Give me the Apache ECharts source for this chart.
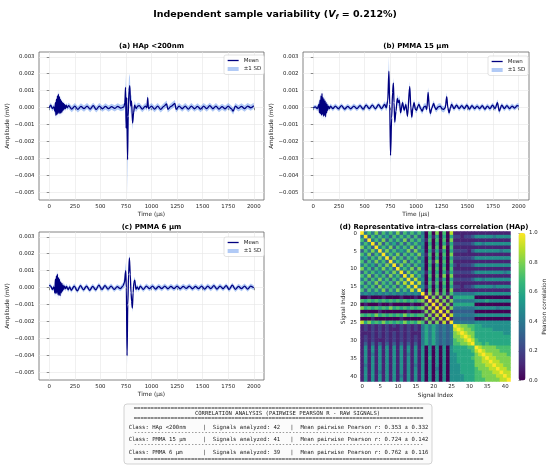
<!DOCTYPE html>
<html lang="en">
<head>
<meta charset="UTF-8">
<title>Independent sample variability</title>
<style>
  html, body { margin: 0; padding: 0; background: #fff; }
  #chart { width: 550px; height: 468px; }
</style>
</head>
<body>
<div id="chart"></div>
<script src="https://cdn.jsdelivr.net/npm/echarts@6/dist/echarts.min.js"></script>
<script>
// signals: [time (µs), mean (µV), sd (µV)]
var sigHAp = [
  [0, 0.00, 0.15], [15, 0.15, 0.15], [30, -0.05, 0.15], [45, 0.05, 0.15],
  [55, -0.20, 0.20], [60, 0.30, 0.20], [65, -0.45, 0.25], [70, 0.50, 0.25],
  [75, -0.40, 0.30], [80, 0.70, 0.30], [85, -0.35, 0.30], [90, 0.80, 0.30],
  [95, -0.30, 0.30], [100, 0.65, 0.30], [105, -0.35, 0.30], [110, 0.50, 0.25],
  [115, -0.30, 0.25], [120, 0.40, 0.25], [125, -0.25, 0.20], [130, 0.30, 0.20],
  [135, -0.15, 0.20], [140, 0.25, 0.20], [145, -0.10, 0.15], [150, 0.20, 0.15],
  [158, -0.05, 0.15], [166, 0.15, 0.15], [175, 0.00, 0.15],
  [190, 0.12, 0.18], [220, -0.08, 0.18], [250, 0.10, 0.18], [280, -0.10, 0.18],
  [310, 0.08, 0.18], [340, -0.05, 0.18], [370, 0.10, 0.18], [400, -0.08, 0.18],
  [430, 0.12, 0.18], [460, -0.10, 0.18], [490, 0.10, 0.18], [520, -0.06, 0.18],
  [550, 0.08, 0.18], [580, -0.05, 0.18], [610, 0.06, 0.18], [640, -0.04, 0.18],
  [670, 0.08, 0.18], [700, -0.02, 0.18], [730, 0.05, 0.20],
  [740, 0.30, 0.30], [746, 1.20, 0.80], [752, -1.20, 0.80], [758, 0.60, 0.80],
  [766, -3.05, 2.00], [772, -0.50, 1.20], [780, 1.00, 0.80], [788, 1.30, 0.70],
  [796, 0.10, 0.50], [805, 0.40, 0.40], [815, -0.90, 0.40], [825, -0.30, 0.30],
  [835, 0.15, 0.25], [850, -0.05, 0.20], [865, 0.10, 0.20],
  [880, 0.12, 0.18], [910, -0.08, 0.18], [940, 0.10, 0.18], [955, 0.00, 0.18],
  [963, 0.60, 0.25], [970, -0.05, 0.18], [1000, 0.10, 0.18], [1030, -0.08, 0.18],
  [1060, 0.10, 0.18], [1090, -0.10, 0.18], [1120, 0.08, 0.18], [1148, 0.22, 0.20],
  [1160, -0.10, 0.18], [1190, 0.08, 0.18], [1229, 0.25, 0.20], [1240, -0.10, 0.18],
  [1270, 0.10, 0.18], [1300, -0.06, 0.18], [1330, 0.10, 0.18], [1360, -0.08, 0.18],
  [1390, 0.10, 0.18], [1420, -0.06, 0.18], [1450, 0.08, 0.18], [1480, -0.08, 0.18],
  [1510, 0.10, 0.18], [1540, -0.05, 0.18], [1570, 0.12, 0.18], [1600, -0.06, 0.18],
  [1630, 0.10, 0.18], [1660, -0.08, 0.18], [1690, 0.06, 0.18], [1720, -0.06, 0.18],
  [1750, 0.10, 0.18], [1780, -0.05, 0.18], [1798, -0.20, 0.20], [1820, 0.10, 0.18],
  [1850, -0.04, 0.18], [1880, 0.08, 0.18], [1910, -0.05, 0.18], [1940, 0.10, 0.18],
  [1970, 0.00, 0.18], [2000, 0.12, 0.18]
];

var sigPMMA15 = [
  [0, 0.00, 0.12], [20, 0.05, 0.12], [40, -0.05, 0.15],
  [55, 0.20, 0.20], [60, -0.30, 0.20], [65, 0.45, 0.25], [70, -0.35, 0.25],
  [75, 0.70, 0.30], [80, -0.45, 0.30], [85, 0.84, 0.30], [90, -0.40, 0.30],
  [95, 0.60, 0.30], [100, -0.50, 0.30], [105, 0.50, 0.30], [110, -0.45, 0.30],
  [115, 0.40, 0.25], [120, -0.53, 0.25], [125, 0.30, 0.20], [130, -0.30, 0.20],
  [135, 0.20, 0.20], [140, -0.15, 0.15], [148, 0.10, 0.15], [158, -0.05, 0.15],
  [168, 0.10, 0.15],
  [190, -0.05, 0.15], [215, 0.10, 0.15], [245, -0.06, 0.15], [275, 0.12, 0.15],
  [305, -0.08, 0.15], [335, 0.08, 0.15], [365, -0.06, 0.15], [395, 0.10, 0.15],
  [425, -0.05, 0.15], [455, 0.12, 0.15], [485, -0.08, 0.15], [515, 0.15, 0.15],
  [545, -0.05, 0.15], [575, 0.15, 0.15], [605, -0.06, 0.15], [635, 0.18, 0.15],
  [665, -0.05, 0.15], [695, 0.20, 0.18], [710, 0.00, 0.20],
  [725, 0.40, 0.35], [736, 2.15, 0.85], [744, 0.20, 0.60], [752, -2.80, 0.45],
  [763, -0.60, 0.35], [772, 0.90, 0.30], [780, 1.45, 0.30], [786, 0.30, 0.30],
  [793, -0.85, 0.30], [805, -0.20, 0.25], [818, 0.55, 0.25], [828, 0.30, 0.25],
  [838, 0.45, 0.25], [850, -0.30, 0.20], [869, 0.30, 0.20], [885, -0.15, 0.20],
  [901, 0.20, 0.20], [917, -0.50, 0.20], [939, 1.25, 0.30], [950, 0.00, 0.25],
  [959, -0.55, 0.20], [970, 0.00, 0.20], [981, 0.30, 0.20], [995, -0.10, 0.20],
  [1006, -0.15, 0.18], [1018, 0.10, 0.18], [1029, 0.20, 0.18], [1045, -0.05, 0.18],
  [1061, -0.20, 0.18], [1076, 0.05, 0.18], [1092, 0.10, 0.18], [1105, -0.10, 0.18],
  [1118, 0.90, 0.30], [1130, 0.00, 0.20], [1140, -0.35, 0.20], [1155, 0.00, 0.18],
  [1172, 0.25, 0.18], [1185, 0.00, 0.18], [1197, -0.10, 0.18], [1215, 0.05, 0.18],
  [1236, 0.10, 0.18], [1252, -0.05, 0.18], [1268, -0.10, 0.18], [1285, 0.00, 0.18],
  [1299, 0.65, 0.25], [1310, 0.00, 0.20], [1322, -0.30, 0.18], [1335, 0.00, 0.18],
  [1347, 0.20, 0.18], [1370, -0.05, 0.15], [1395, 0.15, 0.15], [1420, -0.05, 0.15],
  [1445, 0.12, 0.15], [1470, -0.05, 0.15], [1495, 0.15, 0.15], [1520, -0.08, 0.15],
  [1545, 0.12, 0.15], [1570, -0.05, 0.15], [1595, 0.10, 0.15], [1620, -0.05, 0.15],
  [1645, 0.12, 0.15], [1670, -0.08, 0.15], [1695, 0.10, 0.15], [1720, -0.05, 0.15],
  [1745, 0.15, 0.15], [1770, -0.05, 0.15], [1793, 0.30, 0.18], [1810, -0.20, 0.18],
  [1835, 0.15, 0.15], [1860, -0.05, 0.15], [1885, 0.12, 0.15], [1910, -0.05, 0.15],
  [1935, 0.10, 0.15], [1960, -0.02, 0.15], [1985, 0.12, 0.15], [2000, 0.10, 0.15]
];

var sigPMMA6 = [
  [0, 0.15, 0.12], [15, 0.10, 0.12], [30, -0.10, 0.12], [45, 0.05, 0.15],
  [55, -0.30, 0.20], [60, 0.50, 0.25], [65, -0.35, 0.25], [70, 0.70, 0.30],
  [75, -0.30, 0.30], [80, 0.80, 0.30], [85, -0.40, 0.30], [90, 0.60, 0.30],
  [95, -0.45, 0.30], [100, 0.50, 0.30], [107, -0.47, 0.30], [112, 0.35, 0.25],
  [118, -0.30, 0.25], [124, 0.25, 0.20], [130, -0.20, 0.20], [136, 0.15, 0.20],
  [142, -0.10, 0.15], [150, 0.10, 0.15], [160, -0.05, 0.15], [170, 0.08, 0.15],
  [185, -0.12, 0.15],
  [200, 0.05, 0.15], [215, -0.15, 0.15], [245, 0.10, 0.15], [275, -0.18, 0.15],
  [305, 0.12, 0.15], [335, -0.12, 0.15], [365, 0.10, 0.15], [395, -0.15, 0.15],
  [425, 0.08, 0.15], [455, -0.12, 0.15], [485, 0.15, 0.15], [515, -0.10, 0.15],
  [545, 0.12, 0.15], [575, -0.08, 0.15], [605, 0.10, 0.15], [635, -0.10, 0.15],
  [665, 0.06, 0.15], [695, -0.05, 0.15], [720, 0.10, 0.18],
  [735, 0.30, 0.30], [748, 1.00, 0.50], [754, 0.00, 0.60], [761, -4.00, 0.50],
  [768, -1.00, 0.40], [776, 0.80, 0.35], [784, 1.75, 0.30], [792, 0.80, 0.30],
  [800, -0.30, 0.30], [806, -0.80, 0.30], [813, -1.20, 0.25], [820, -0.30, 0.25],
  [828, 0.30, 0.20], [836, 0.45, 0.20], [848, -0.10, 0.20], [860, 0.05, 0.15],
  [875, -0.10, 0.15], [890, 0.10, 0.15],
  [920, -0.10, 0.15], [950, 0.10, 0.15], [980, -0.05, 0.15], [1010, 0.10, 0.15],
  [1040, -0.08, 0.15], [1070, 0.08, 0.15], [1100, -0.05, 0.15], [1130, 0.10, 0.15],
  [1160, -0.06, 0.15], [1190, 0.08, 0.15], [1220, -0.05, 0.15], [1250, 0.10, 0.15],
  [1280, -0.06, 0.15], [1310, 0.08, 0.15], [1340, -0.04, 0.15], [1370, 0.10, 0.15],
  [1400, -0.06, 0.15], [1430, 0.08, 0.15], [1460, -0.05, 0.15], [1490, 0.10, 0.15],
  [1520, -0.08, 0.15], [1550, 0.10, 0.15], [1580, -0.05, 0.15], [1610, 0.12, 0.15],
  [1640, -0.08, 0.15], [1670, 0.10, 0.15], [1700, -0.06, 0.15], [1730, 0.12, 0.15],
  [1760, -0.10, 0.15], [1790, 0.15, 0.15], [1820, -0.10, 0.15], [1850, 0.08, 0.15],
  [1880, -0.05, 0.15], [1910, 0.10, 0.15], [1940, -0.08, 0.15], [1970, 0.10, 0.15],
  [2000, 0.00, 0.15]
];

var panelTitles = ['(a) HAp <200nm', '(b) PMMA 15 µm', '(c) PMMA 6 µm'];
var timeTicks = [0, 250, 500, 750, 1000, 1250, 1500, 1750, 2000];
var ampTicks = [-0.005, -0.004, -0.003, -0.002, -0.001, 0, 0.001, 0.002, 0.003];

// pairwise Pearson r, lower triangle, one digit per tenth, X = 1.0
var corrTri = [
  'X',
  '4X',
  '73X',
  '474X',
  '8473X',
  '37484X',
  '748374X',
  '4637484X',
  '73748473X',
  '474637484X',
  '8473748473X',
  '37474637484X',
  '748374738473X',
  '4737484737484X',
  '73748374738494X',
  '474738474737494X',
  '7374748374847494X',
  '45454545454545454' + 'X',
  '00100010000100010' + '1X',
  '76767676767676767' + '81X',
  '01000100100000100' + '181X',
  '86767676867676767' + '8191X',
  '00000100000001000' + '18191X',
  '76768676767686767' + '718191X',
  '00010000000100000' + '1818191X',
  '96867686767686768' + '71818191X',
  '12121212121212121' + '464643434' + 'X',
  '12121212111212121' + '464643434' + '9X',
  '11121212121212111' + '464643434' + '89X',
  '12121212121212121' + '464643434' + '889X',
  '12121112121212121' + '464643434' + '7889X',
  '13131313131313131' + '464643434' + '77889X',
  '15151515151515151' + '505050505' + '666677' + 'X',
  '15151515151515151' + '505050505' + '666667' + '9X',
  '15141515151514151' + '505050505' + '566666' + '89X',
  '15151515151515151' + '506050505' + '566667' + '889X',
  '15151515151515151' + '505050505' + '566666' + '8899X',
  '14151515151515141' + '505050505' + '556666' + '88899X',
  '15151515151515151' + '505040505' + '556666' + '788899X',
  '15151415151515151' + '505050505' + '556666' + '7788899X',
  '15151515151415151' + '505050505' + '555666' + '77888899X',
  '15151515151515151' + '505050505' + '555666' + '777888899X'
];

var tableClasses = ['HAp <200nm', 'PMMA 15 µm', 'PMMA 6 µm'];
var tableCounts = [42, 41, 39];
var tableMeans = [0.353, 0.724, 0.762];
var tableSds = [0.332, 0.142, 0.116];

var NAVY = '#000080';
var BAND = 'rgba(100,149,237,0.5)';
var FONT = '"DejaVu Sans", sans-serif';
var MONO = '"DejaVu Sans Mono", monospace';
var VIRIDIS = ['#440154', '#482878', '#3e4989', '#31688e', '#26828e',
               '#1f9e89', '#35b779', '#6ece58', '#b5de2b', '#fde725'];

var signals = [sigHAp, sigPMMA15, sigPMMA6];
var panelGrids = [
  { left: 39, top: 52, width: 225, height: 148 },
  { left: 303, top: 52, width: 226, height: 148 },
  { left: 39, top: 232, width: 225, height: 148 }
];
var legendPos = [{ left: 224, top: 55 }, { left: 488, top: 56 }, { left: 224, top: 237 }];

function fmtAmp(v) {
  var s = Math.abs(v).toFixed(3);
  return v < -1e-9 ? '\u2212' + s : s;
}
function cellValue(ch) {
  return ch === 'X' ? 1 : Number(ch) / 10;
}

var chart = echarts.init(document.getElementById('chart'));

var grids = [], xAxes = [], yAxes = [], series = [], legends = [];
var tickFont = { fontSize: 5.4, fontFamily: FONT, color: '#222' };
var nameFont = { fontSize: 5.8, fontFamily: FONT, color: '#222' };

signals.forEach(function (sig, i) {
  var g = panelGrids[i];
  grids.push({ left: g.left, top: g.top, width: g.width, height: g.height,
    show: true, borderColor: '#666', borderWidth: 0.8, backgroundColor: '#fff' });
  xAxes.push({
    gridIndex: i, type: 'value', min: -100, max: 2100,
    axisLine: { show: false },
    axisTick: { customValues: timeTicks, length: 2.5, lineStyle: { color: '#444', width: 0.6 } },
    axisLabel: Object.assign({ customValues: timeTicks, margin: 4,
      formatter: function (v) { return String(v); } }, tickFont),
    splitLine: { show: true, lineStyle: { color: '#e6e6e6', width: 0.6 } },
    name: 'Time (µs)', nameLocation: 'middle', nameGap: 11.5, nameTextStyle: nameFont
  });
  yAxes.push({
    gridIndex: i, type: 'value', min: -0.00543, max: 0.00328,
    axisLine: { show: false },
    axisTick: { customValues: ampTicks, length: 2.5, lineStyle: { color: '#444', width: 0.6 } },
    axisLabel: Object.assign({ customValues: ampTicks, margin: 4.5, formatter: fmtAmp }, tickFont),
    splitLine: { show: true, lineStyle: { color: '#e6e6e6', width: 0.6 } },
    name: 'Amplitude (mV)', nameLocation: 'middle', nameGap: 26, nameTextStyle: nameFont
  });
  // ±1 SD band drawn as one polygon through the axis scales
  series.push({
    type: 'custom', name: '±1 SD', xAxisIndex: i, yAxisIndex: i,
    data: [[1000, 0]], silent: true, z: 1, itemStyle: { color: BAND },
    renderItem: function (params, api) {
      var upper = sig.map(function (p) { return api.coord([p[0], (p[1] + p[2]) / 1000]); });
      var lower = sig.map(function (p) { return api.coord([p[0], (p[1] - p[2]) / 1000]); }).reverse();
      return { type: 'polygon', shape: { points: upper.concat(lower) }, style: { fill: BAND } };
    }
  });
  series.push({
    type: 'line', name: 'Mean', xAxisIndex: i, yAxisIndex: i, z: 3, silent: true,
    data: sig.map(function (p) { return [p[0], p[1] / 1000]; }),
    symbol: 'none', smooth: 0.3, smoothMonotone: 'x',
    lineStyle: { color: NAVY, width: 1.3 }, itemStyle: { color: NAVY }
  });
  legends.push({
    left: legendPos[i].left, top: legendPos[i].top, orient: 'vertical',
    selectedMode: false, itemWidth: 11, itemHeight: 4, itemGap: 2.5,
    padding: [2.5, 3, 2.5, 3], borderColor: '#d0d0d0', borderWidth: 0.6, borderRadius: 2,
    backgroundColor: 'rgba(255,255,255,0.85)',
    textStyle: { fontSize: 5.5, fontFamily: FONT, color: '#222' },
    data: [
      { name: 'Mean', itemStyle: { color: 'rgba(0,0,0,0)', borderWidth: 0 }, lineStyle: { color: NAVY, width: 1.3 } },
      { name: '±1 SD', icon: 'rect', itemStyle: { color: BAND } }
    ]
  });
});

// correlation heatmap (d)
var nSig = corrTri.length;
var sigIndex = [];
for (var k = 0; k < nSig; k++) sigIndex.push(String(k));
var heatData = [];
for (var r = 0; r < nSig; r++) {
  for (var c = 0; c < nSig; c++) {
    var ch = c <= r ? corrTri[r][c] : corrTri[c][r];
    heatData.push([c, r, cellValue(ch)]);
  }
}
grids.push({ left: 360.5, top: 231.5, width: 150, height: 150 });
xAxes.push({
  gridIndex: 3, type: 'category', data: sigIndex,
  axisLine: { show: false },
  axisTick: { interval: 4, alignWithLabel: true, length: 2.5, lineStyle: { color: '#444', width: 0.6 } },
  axisLabel: Object.assign({ interval: 4, margin: 3 }, tickFont),
  splitLine: { show: false },
  name: 'Signal Index', nameLocation: 'middle', nameGap: 10.5, nameTextStyle: nameFont
});
yAxes.push({
  gridIndex: 3, type: 'category', data: sigIndex, inverse: true,
  axisLine: { show: false },
  axisTick: { interval: 4, alignWithLabel: true, length: 2.5, lineStyle: { color: '#444', width: 0.6 } },
  axisLabel: Object.assign({ interval: 4, margin: 3.5 }, tickFont),
  splitLine: { show: false },
  name: 'Signal Index', nameLocation: 'middle', nameGap: 14, nameTextStyle: nameFont
});
series.push({
  type: 'heatmap', xAxisIndex: 3, yAxisIndex: 3, data: heatData,
  silent: true, progressive: 0, itemStyle: { borderWidth: 0 }
});

// colorbar scale
grids.push({ left: 518.5, top: 233, width: 7, height: 147.5 });
xAxes.push({ gridIndex: 4, type: 'value', show: false });
yAxes.push({
  gridIndex: 4, type: 'value', position: 'right', min: 0, max: 1, interval: 0.2,
  axisLine: { show: false },
  axisTick: { show: true, length: 2.5, lineStyle: { color: '#444', width: 0.6 } },
  axisLabel: Object.assign({ margin: 3.5, formatter: function (v) { return v.toFixed(1); } }, tickFont),
  splitLine: { show: false },
  name: 'Pearson correlation', nameLocation: 'middle', nameGap: 13, nameTextStyle: nameFont
});

// summary table
var eqLine = new Array(87).join('=');
var dashLine = new Array(87).join('-');
function tableRow(i) {
  return 'Class: ' + tableClasses[i].padEnd(15) + '|  Signals analyzed: ' +
    String(tableCounts[i]).padEnd(5) + '|  Mean pairwise Pearson r: ' +
    tableMeans[i].toFixed(3) + ' ± ' + tableSds[i].toFixed(3);
}
var tableLines = [
  [eqLine, 278.5, 408.3],
  ['CORRELATION ANALYSIS (PAIRWISE PEARSON R - RAW SIGNALS)', 287.5, 413.3],
  [eqLine, 278.5, 418.7],
  [tableRow(0), 278.5, 427.7],
  [dashLine, 278.5, 432.9],
  [tableRow(1), 278.5, 439.3],
  [dashLine, 278.5, 445],
  [tableRow(2), 278.5, 452.7],
  [eqLine, 278.5, 459.3]
];

var graphics = [
  { type: 'rect', shape: { x: 124, y: 404, width: 308, height: 60, r: 3 },
    style: { fill: '#fbfbfb', stroke: '#c8c8c8', lineWidth: 0.8 } }
];
tableLines.forEach(function (t) {
  graphics.push({ type: 'text', x: t[1], y: t[2],
    style: { text: t[0], fontSize: 5.6, fontFamily: MONO, fill: '#222', align: 'center', verticalAlign: 'middle' } });
});
var subTitlePos = [[151.5, 46], [416, 46], [151.5, 226.7]];
panelTitles.forEach(function (t, i) {
  graphics.push({ type: 'text', x: subTitlePos[i][0], y: subTitlePos[i][1],
    style: { text: t, fontSize: 7, fontWeight: 'bold', fontFamily: FONT, fill: '#000', align: 'center', verticalAlign: 'middle' } });
});
graphics.push({ type: 'text', x: 434, y: 226.7,
  style: { text: '(d) Representative intra-class correlation (HAp)', fontSize: 7, fontWeight: 'bold',
    fontFamily: FONT, fill: '#000', align: 'center', verticalAlign: 'middle' } });

var option = {
  animation: false,
  backgroundColor: '#fff',
  title: {
    text: 'Independent sample variability ({v|V}{f|f} = 0.212%)',
    left: 'center', top: 4,
    textStyle: {
      fontFamily: FONT, fontSize: 9.5, fontWeight: 'bold', color: '#000', lineHeight: 12,
      rich: {
        v: { fontFamily: FONT, fontSize: 9.5, fontStyle: 'italic', color: '#000', lineHeight: 12 },
        f: { fontFamily: FONT, fontSize: 6.5, fontStyle: 'italic', color: '#000', lineHeight: 6, verticalAlign: 'bottom' }
      }
    }
  },
  grid: grids,
  xAxis: xAxes,
  yAxis: yAxes,
  legend: legends,
  visualMap: {
    type: 'continuous', seriesIndex: 6, dimension: 2, min: 0, max: 1,
    orient: 'vertical', left: 518.5, top: 233, itemWidth: 7, itemHeight: 147.5,
    padding: 0, calculable: false, hoverLink: false,
    inRange: { color: VIRIDIS }
  },
  series: series,
  graphic: { elements: graphics }
};
chart.setOption(option);
</script>
</body>
</html>
